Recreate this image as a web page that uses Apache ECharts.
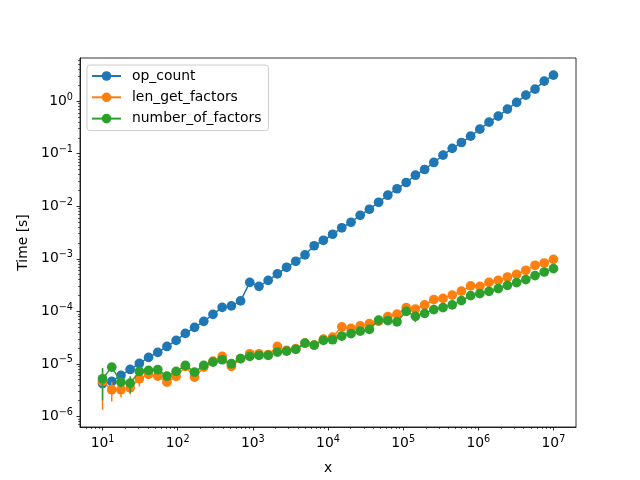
<!DOCTYPE html>
<html>
<head>
<meta charset="utf-8">
<script src="https://cdn.jsdelivr.net/npm/echarts@6/dist/echarts.min.js"></script>
<style>
  html, body { margin: 0; padding: 0; background: #fff; }
  #main { width: 640px; height: 480px; }
</style>
</head>
<body>
<div id="main"></div>
<script>
// problem sizes (x)
var sizes = [10, 13.26, 17.58, 23.30, 30.89, 40.95, 54.29, 71.97, 95.41, 126.5,
  167.7, 222.3, 294.7, 390.7, 517.9, 686.6, 910.3, 1206.8, 1599.9, 2121,
  2812, 3728, 4942, 6551, 8685, 11514, 15264, 20236, 26827, 35565,
  47149, 62506, 82864, 109854, 145635, 193070, 255955, 339322, 449843, 596362,
  790604, 1048113, 1389495, 1842070, 2442053, 3237458, 4291934, 5689866, 7543120, 10000000];

// measured times [s]
var opCount = [4.25e-6, 4.64e-6, 6.04e-6, 7.85e-6, 1.02e-5, 1.33e-5, 1.66e-5, 2.15e-5, 2.80e-5, 3.81e-5,
  4.96e-5, 6.45e-5, 8.77e-5, 1.19e-4, 1.27e-4, 1.58e-4, 3.57e-4, 2.99e-4, 3.89e-4, 5.18e-4,
  6.89e-4, 8.96e-4, 1.19e-3, 1.77e-3, 2.25e-3, 2.93e-3, 3.89e-3, 4.96e-3, 6.74e-3, 8.77e-3,
  1.19e-2, 1.62e-2, 2.15e-2, 2.83e-2, 3.89e-2, 5.00e-2, 6.80e-2, 9.36e-2, 0.126, 0.163,
  0.215, 0.293, 0.398, 0.518, 0.704, 0.945, 1.30, 1.69, 2.40, 3.13];
var lenGetFactors = [4.64e-6, 3.23e-6, 3.23e-6, 3.52e-6, 5.22e-6, 6.31e-6, 5.86e-6, 4.50e-6, 5.78e-6, 8.96e-6,
  5.61e-6, 8.69e-6, 1.13e-5, 1.39e-5, 8.96e-6, 1.26e-5, 1.56e-5, 1.56e-5, 1.50e-5, 2.15e-5,
  1.81e-5, 1.95e-5, 2.49e-5, 2.28e-5, 2.97e-5, 3.24e-5, 5.07e-5, 4.74e-5, 5.30e-5, 5.83e-5,
  6.45e-5, 7.93e-5, 8.85e-5, 1.18e-4, 1.11e-4, 1.33e-4, 1.67e-4, 1.77e-4, 2.04e-4, 2.43e-4,
  3.06e-4, 2.99e-4, 3.57e-4, 3.89e-4, 4.50e-4, 5.07e-4, 6.04e-4, 7.52e-4, 8.32e-4, 9.77e-4];
var numberOfFactors = [5.22e-6, 8.69e-6, 4.50e-6, 4.31e-6, 7.20e-6, 7.52e-6, 7.76e-6, 5.86e-6, 7.20e-6, 9.36e-6,
  6.98e-6, 9.36e-6, 1.08e-5, 1.20e-5, 1.01e-5, 1.26e-5, 1.39e-5, 1.45e-5, 1.45e-5, 1.68e-5,
  1.75e-5, 1.89e-5, 2.49e-5, 2.28e-5, 2.80e-5, 2.89e-5, 3.39e-5, 3.76e-5, 4.20e-5, 4.54e-5,
  6.83e-5, 6.65e-5, 6.31e-5, 1.00e-4, 8.03e-5, 9.16e-5, 1.08e-4, 1.18e-4, 1.33e-4, 1.60e-4,
  1.99e-4, 2.17e-4, 2.40e-4, 2.70e-4, 3.13e-4, 3.52e-4, 4.02e-4, 4.79e-4, 5.61e-4, 6.50e-4];

// error bar half-widths [s]
var opCountErr = [0, 0, 0, 0, 0, 0, 0, 0, 0, 0,
  0, 0, 0, 0, 0, 0, 0, 0, 0, 0,
  0, 0, 0, 0, 0, 0, 0, 0, 0, 0,
  0, 0, 0, 0, 0, 0, 0, 0, 0, 0,
  0, 0, 0, 0, 0, 0, 0, 0, 0, 0];
var lenGetFactorsErr = [3.3e-6, 1.3e-6, 0.9e-6, 0.9e-6, 1.5e-6, 0, 0, 0.4e-6, 0, 0,
  0, 0, 0, 0, 0, 0, 0, 0, 0, 0,
  0, 0, 0, 0, 0, 0, 0, 0, 0, 0,
  0, 0, 0, 0, 0, 0, 0, 0, 0, 0,
  0, 0, 0, 0, 0, 0, 0, 0, 0, 0];
var numberOfFactorsErr = [3.2e-6, 0, 0, 1.5e-6, 0, 0, 0, 0, 0, 0,
  0, 0, 0, 0, 0, 0, 0, 0, 0, 0,
  0, 0, 0, 0, 0, 0, 0, 0, 0, 0,
  0, 0, 0, 0, 1.8e-5, 0, 0, 0, 0, 0,
  0, 0, 0, 0, 0, 0, 0, 0, 0, 0];

var seriesNames = ['op_count', 'len_get_factors', 'number_of_factors'];
var colors = ['#1f77b4', '#ff7f0e', '#2ca02c'];
var xTicks = [10, 100, 1e3, 1e4, 1e5, 1e6, 1e7];
var yTicks = [1e-6, 1e-5, 1e-4, 1e-3, 1e-2, 1e-1, 1];

var xMin = Math.pow(10, 0.7), xMax = Math.pow(10, 7.3);
var yMin = Math.pow(10, -6.2), yMax = Math.pow(10, 0.82);
var font = 'DejaVu Sans';

function minorTicks(lo, hi) {
  var out = [];
  for (var d = Math.floor(Math.log10(lo)); d <= Math.ceil(Math.log10(hi)); d++) {
    for (var m = 2; m <= 9; m++) {
      var v = m * Math.pow(10, d);
      if (v > lo && v < hi) out.push(v);
    }
  }
  return out;
}

function powLabel(v) {
  var e = Math.round(Math.log10(v));
  var s = e < 0 ? '\u2212' + (-e) : '' + e;
  return '{b|10}{s|' + s + '}';
}

var labelRich = {
  b: { fontSize: 13.9, fontFamily: font, color: '#000' },
  s: { fontSize: 9.7, fontFamily: font, color: '#000', padding: [0, 0, 8, 0] }
};

function majorAxis(min, max, ticks, extra) {
  var ax = {
    type: 'log', logBase: 10, min: min, max: max,
    axisLine: { show: true, lineStyle: { color: '#000', width: 0.8 } },
    axisTick: { show: true, customValues: ticks, length: 3.5, lineStyle: { color: '#000', width: 0.8 } },
    axisLabel: { show: true, customValues: ticks, formatter: powLabel, rich: labelRich, margin: 7 },
    splitLine: { show: false },
    minorTick: { show: false },
    nameTextStyle: { fontFamily: font, fontSize: 13.9, color: '#000' }
  };
  for (var k in extra) ax[k] = extra[k];
  return ax;
}

function minorAxis(min, max, ticks, pos) {
  return {
    type: 'log', logBase: 10, min: min, max: max, position: pos,
    axisLine: { show: false },
    axisTick: { show: true, customValues: ticks, length: 2, lineStyle: { color: '#000', width: 0.6 } },
    axisLabel: { show: false },
    splitLine: { show: false }
  };
}

var lineData = [opCount, lenGetFactors, numberOfFactors];
var errData = [opCountErr, lenGetFactorsErr, numberOfFactorsErr];

var series = [];
lineData.forEach(function (vals, i) {
  var bars = [];
  vals.forEach(function (v, k) {
    if (errData[i][k] > 0) bars.push([sizes[k], v - errData[i][k], v + errData[i][k]]);
  });
  series.push({
    type: 'custom',
    name: seriesNames[i] + '_err',
    xAxisIndex: 0, yAxisIndex: 0,
    z: 2 + i * 2,
    silent: true,
    encode: { x: 0, y: [1, 2] },
    data: bars,
    renderItem: function (params, api) {
      var p1 = api.coord([api.value(0), api.value(1)]);
      var p2 = api.coord([api.value(0), api.value(2)]);
      return {
        type: 'line',
        shape: { x1: p1[0], y1: p1[1], x2: p2[0], y2: p2[1] },
        style: { stroke: colors[i], lineWidth: 1.5 }
      };
    }
  });
  series.push({
    type: 'line',
    name: seriesNames[i],
    xAxisIndex: 0, yAxisIndex: 0,
    z: 3 + i * 2,
    data: vals.map(function (v, k) { return [sizes[k], v]; }),
    symbol: 'circle',
    symbolSize: 9.7,
    showSymbol: true,
    showAllSymbol: true,
    color: colors[i],
    itemStyle: { color: colors[i] },
    lineStyle: { color: colors[i], width: 1.5 },
    emphasis: { disabled: true }
  });
});

var chart = echarts.init(document.getElementById('main'));
chart.setOption({
  animation: false,
  backgroundColor: '#fff',
  grid: { left: 80, right: 64, top: 58, bottom: 53, show: true, borderColor: '#000', borderWidth: 0.8, containLabel: false },
  legend: {
    data: seriesNames,
    orient: 'vertical',
    left: 87, top: 65,
    itemWidth: 29, itemHeight: 12, itemGap: 7.3,
    padding: [4, 7, 5, 4],
    backgroundColor: 'rgba(255,255,255,0.8)',
    borderColor: '#cccccc', borderWidth: 1, borderRadius: 3,
    textStyle: { fontFamily: font, fontSize: 13.9, color: '#000', padding: [0, 0, 0, 6] }
  },
  xAxis: [
    majorAxis(xMin, xMax, xTicks, { position: 'bottom', name: 'x', nameLocation: 'middle', nameGap: 34 }),
    minorAxis(xMin, xMax, minorTicks(xMin, xMax), 'bottom')
  ],
  yAxis: [
    majorAxis(yMin, yMax, yTicks, { position: 'left', name: 'Time [s]', nameLocation: 'middle', nameGap: 49 }),
    minorAxis(yMin, yMax, minorTicks(yMin, yMax), 'left')
  ],
  series: series
});
</script>
</body>
</html>
